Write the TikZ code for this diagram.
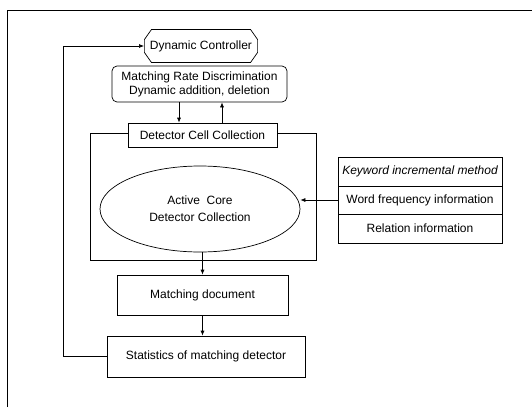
\documentclass[tikz,border=0pt]{standalone}
\usepackage{fontspec}
\setmainfont{Liberation Sans}
\usetikzlibrary{arrows.meta,shapes.geometric,shapes.misc}
\begin{document}
\begin{tikzpicture}[x=1pt,y=-1pt,
  line width=0.7pt,
  every node/.style={font=\fontsize{12}{14}\selectfont, inner sep=1pt},
  plainbox/.style={draw, fill=white, rectangle, align=center},
  roundbox/.style={draw, fill=white, rectangle, rounded corners=5pt, align=center},
  ctrlbox/.style={draw, fill=white, chamfered rectangle, chamfered rectangle xsep=6pt, chamfered rectangle angle=35},
  flow/.style={-{Latex[length=5pt,width=4pt]}}
]
\useasboundingbox (0,0) rectangle (532,407);

% outer frame (top and left edges)
\draw (7,407) -- (7,10) -- (532,10);

% controller and rate discrimination
\node[ctrlbox, minimum width=112, minimum height=33] (ctrl) at (201,46) {Dynamic Controller};
\node[roundbox, minimum width=175, minimum height=36] (rate) at (199.5,84)
  {Matching Rate Discrimination\\Dynamic addition, deletion};

% detector cell collection region
\node[draw, rectangle, minimum width=226, minimum height=127] (core) at (203,196.5) {};
\node[plainbox, minimum width=149, minimum height=24] (cell) at (202.5,135) {Detector Cell Collection};
\node[draw, ellipse, minimum width=200, minimum height=86, align=center,
  font=\fontsize{12}{17}\selectfont] (act) at (200,209)
  {Active\ \ Core\\Detector Collection};

% information table
\node[plainbox, minimum width=164, minimum height=29] (kw) at (420,171.5) {\itshape Keyword incremental method};
\node[plainbox, minimum width=164, minimum height=28] (wf) at (420,200) {Word frequency information};
\node[plainbox, minimum width=164, minimum height=29] (rel) at (420,228.5) {Relation information};

% lower boxes
\node[plainbox, minimum width=171, minimum height=40] (doc) at (202.5,295) {Matching document};
\node[plainbox, minimum width=198, minimum height=41] (stat) at (206,356.5) {Statistics of matching detector};

% connectors
\coordinate (dn) at (179,0);
\coordinate (up) at (222,0);
\draw[flow] (rate.south -| dn) -- (cell.north -| dn);
\draw[flow] (cell.north -| up) -- (rate.south -| up);
\draw[flow] (wf.west) -- (wf.west -| act.east);
\draw[flow] (act.south -| doc.north) -- (doc.north);
\draw[flow] (doc.south) -- (doc.south |- stat.north);
\coordinate (fb) at (63,0);
\draw[flow] (stat.west) -- (stat.west -| fb) -- (fb |- ctrl.west) -- (ctrl.west);
\end{tikzpicture}
\end{document}
